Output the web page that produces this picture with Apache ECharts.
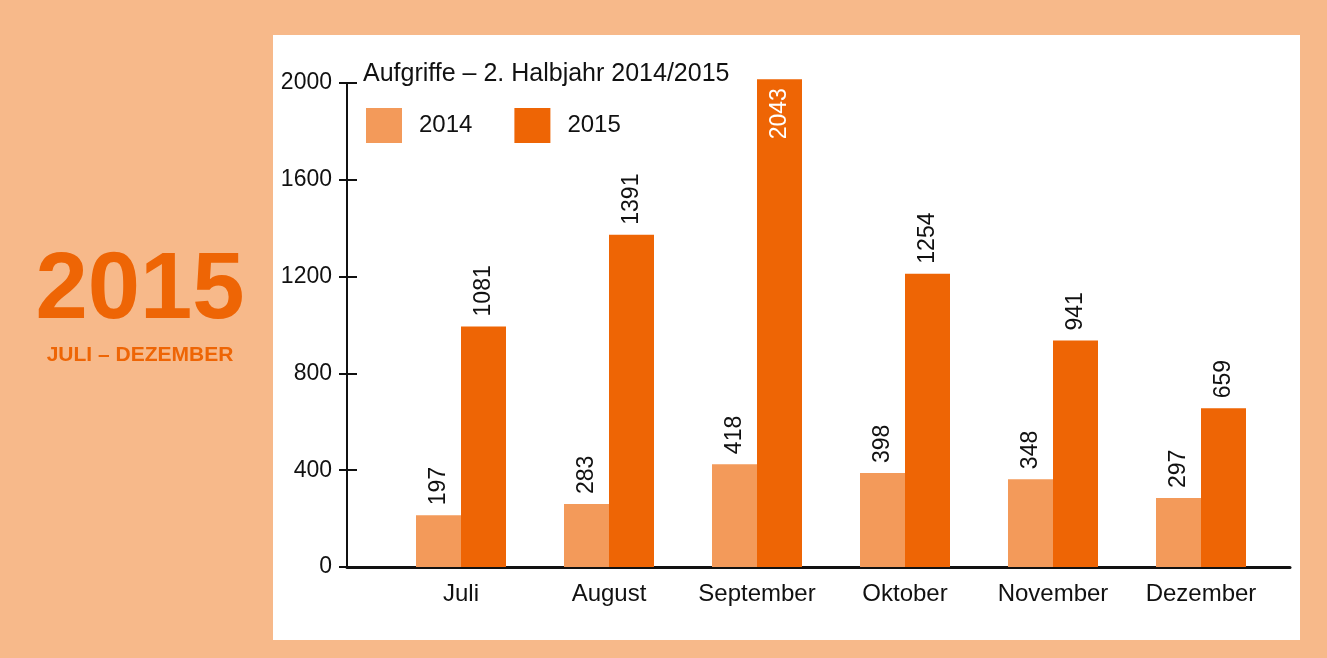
<!DOCTYPE html>
<html>
<head>
<meta charset="utf-8">
<script src="https://cdn.jsdelivr.net/npm/echarts@6/dist/echarts.min.js"></script>
<style>
  html, body { margin: 0; padding: 0; background: #F7B98A; }
  #chart { width: 1327px; height: 658px; }
</style>
</head>
<body>
<div id="chart"></div>
<script type="text/javascript">
// Monate (Kategorien)
var months = ['Juli', 'August', 'September', 'Oktober', 'November', 'Dezember'];
// Balkenhoehen
var bars2014 = [214, 260, 425, 388, 363, 285];
var bars2015 = [994, 1373, 2016, 1212, 936, 656];
// gedruckte Zahlen an den Balken
var labels2014 = [197, 283, 418, 398, 348, 297];
var labels2015 = [1081, 1391, 2043, 1254, 941, 659];
// Achse
var yTicks = [0, 400, 800, 1200, 1600, 2000];

var c2014 = '#F39A5A';
var c2015 = '#EE6505';
var font = '"Liberation Sans", Arial, Helvetica, sans-serif';

var chart = echarts.init(document.getElementById('chart'), null, { renderer: 'canvas' });

function buildData(values, labels) {
  var out = [];
  for (var i = 0; i < values.length; i++) {
    var item = { value: values[i], printed: labels[i] };
    // zu hohe Balken: Zahl weiss innen
    if (values[i] > 1900) {
      item.label = { position: 'insideTop', align: 'right', color: '#fff', distance: 9 };
    }
    out.push(item);
  }
  return out;
}

var barLabel = {
  show: true,
  position: 'top',
  rotate: 90,
  align: 'left',
  verticalAlign: 'middle',
  distance: 10,
  fontFamily: font,
  fontSize: 23,
  color: '#111',
  formatter: function (p) { return p.data.printed; }
};

chart.setOption({
  backgroundColor: '#F7B98A',
  animation: false,
  graphic: [
    { type: 'rect', shape: { x: 273, y: 35, width: 1027, height: 605 }, style: { fill: '#fff' }, z: -10 },
    { type: 'text', x: 140, y: 292, style: { text: '2015', font: 'bold 94px ' + font, fill: c2015, align: 'center', verticalAlign: 'middle' } },
    { type: 'text', x: 140, y: 355, style: { text: 'JULI – DEZEMBER', font: 'bold 21px ' + font, fill: c2015, align: 'center', verticalAlign: 'middle' } }
  ],
  title: {
    text: 'Aufgriffe – 2. Halbjahr 2014/2015',
    left: 363,
    top: 62,
    padding: 0,
    textStyle: { fontFamily: font, fontSize: 25, fontWeight: 'normal', color: '#111' }
  },
  legend: {
    left: 366,
    top: 108,
    padding: 0,
    itemWidth: 36,
    itemHeight: 35,
    itemGap: 42,
    icon: 'rect',
    textStyle: { fontFamily: font, fontSize: 24, color: '#111', padding: [0, 0, 0, 12] },
    data: ['2014', '2015']
  },
  grid: [
    { left: 347, top: 83, right: 37, bottom: 91 },
    { left: 387, top: 83, width: 888, bottom: 91 }
  ],
  xAxis: [
    {
      gridIndex: 0, type: 'category', data: [''],
      axisLine: { lineStyle: { color: '#111', width: 3 } },
      axisTick: { show: false }, axisLabel: { show: false }
    },
    {
      gridIndex: 1, type: 'category', data: months,
      axisLine: { show: false }, axisTick: { show: false },
      axisLabel: { interval: 0, fontFamily: font, fontSize: 24, color: '#111', margin: 15 }
    }
  ],
  yAxis: [
    {
      gridIndex: 0, type: 'value', position: 'left', min: yTicks[0], max: yTicks[yTicks.length - 1], interval: 400,
      axisLine: { show: true, lineStyle: { color: '#111', width: 2 } },
      axisTick: { show: true, length: 8, lineStyle: { color: '#111', width: 2 } },
      axisLabel: { fontFamily: font, fontSize: 23, color: '#111', margin: 15, padding: [4, 0, 0, 0], formatter: function (v) { return String(v); } },
      splitLine: { show: false }
    },
    {
      gridIndex: 0, type: 'value', position: 'left', offset: 0, min: yTicks[0], max: yTicks[yTicks.length - 1], interval: 400,
      axisLine: { show: false },
      axisTick: { show: true, inside: true, length: 10, lineStyle: { color: '#111', width: 2 } },
      axisLabel: { show: false },
      splitLine: { show: false }
    },
    {
      gridIndex: 1, type: 'value', min: 0, max: 2000, show: false
    }
  ],
  series: [
    {
      name: '2014', type: 'bar', xAxisIndex: 1, yAxisIndex: 2,
      barWidth: 45, barGap: '0%', clip: false,
      itemStyle: { color: c2014 },
      label: barLabel,
      data: buildData(bars2014, labels2014)
    },
    {
      name: '2015', type: 'bar', xAxisIndex: 1, yAxisIndex: 2,
      barWidth: 45, barGap: '0%', clip: false,
      itemStyle: { color: c2015 },
      label: barLabel,
      data: buildData(bars2015, labels2015)
    }
  ]
});
</script>
</body>
</html>
